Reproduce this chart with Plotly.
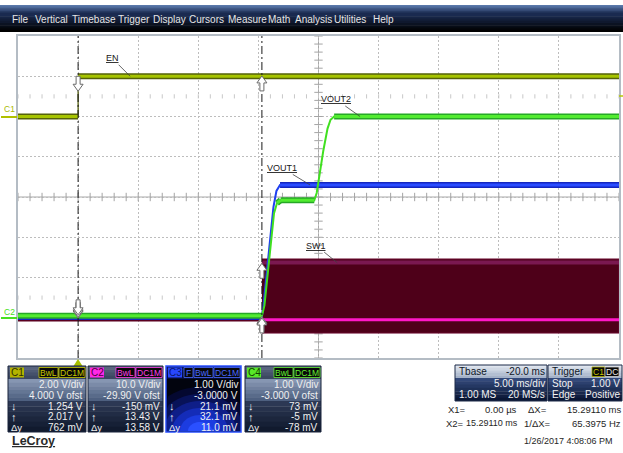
import numpy as np
import plotly.graph_objects as go

W, H = 623, 453
FONT = "Liberation Sans, Arial, sans-serif"

# ---------------- data ----------------
menu_items = ["File", "Vertical", "Timebase", "Trigger", "Display", "Cursors",
              "Measure", "Math", "Analysis", "Utilities", "Help"]
menu_x = [11, 34, 71, 117, 152, 188, 227, 267, 294, 333, 372]

t_left_ms, t_right_ms = -5.0, 45.0       # 5 ms/div, 10 div
div_lo, div_hi = -4, 4

ch_names = ["C1", "C2", "C3", "C4"]
ch_vdiv = [2.0, 10.0, 1.0, 1.0]
ch_ofst = [4.0, -29.90, -3.0, -3.0]
ch_vdiv_txt = ["2.00 V/div", "10.0 V/div", "1.00 V/div", "1.00 V/div"]
ch_ofst_txt = ["4.000 V ofst", "-29.90 V ofst", "-3.0000 V", "-3.000 V ofst"]
cur1_txt = ["1.254 V", "-150 mV", "21.1 mV", "73 mV"]
cur2_txt = ["2.017 V", "13.43 V", "32.1 mV", "-5 mV"]
dy_txt = ["762 mV", "13.58 V", "11.0 mV", "-78 mV"]
cur1_vals = [1.254, -0.150, 0.0211, 0.073]
cur2_vals = [2.017, 13.43, 0.0321, -0.005]
x1_ms = 0.0
x2_ms = 15.2911

# C1 : EN
en_t = [-5.0, 0.0, 0.0, 45.0]
en_v = [0.0, 0.0, 2.0, 2.0]
# C3 : VOUT1
vout1_t = [-5.0, 15.29, 15.45, 16.25, 16.5, 16.8, 45.0]
vout1_v = [0.02, 0.02, 0.4, 2.75, 3.15, 3.3, 3.3]
# C4 : VOUT2
vout2_t = [-5.0, 15.29, 15.5, 16.3, 16.55, 16.85, 19.65, 19.85, 20.4, 20.75, 21.0, 21.3, 45.0]
vout2_v = [0.05, 0.05, 0.3, 2.6, 2.85, 2.92, 2.92, 3.1, 4.15, 4.7, 4.92, 5.0, 5.0]
# C2 : SW1
sw1_pre_t = [-5.0, 15.29]
sw1_pre_v = [-0.3, -0.3]
sw1_t = [15.29, 45.0]
sw1_max_v = [14.5, 14.5]
sw1_min_v = [-3.9, -3.9]
sw1_low_v = [-0.6, -0.6]
sw1_high_v = [13.6, 13.6]

label_names = ["EN", "VOUT2", "VOUT1", "SW1"]
label_ch = [0, 3, 2, 1]
label_t = [4.33, 23.46, 19.3, 21.55]
label_v = [2.0, 5.0, 3.3, 13.6]
label_off = [(-18, -18), (-24, -17), (-28, -17), (-21, -17)]

tb_rows = [("Tbase", "-20.0 ms"), ("", "5.00 ms/div"), ("1.00 MS", "20 MS/s")]
trg_rows = [("Trigger", ""), ("Stop", "1.00 V"), ("Edge", "Positive")]
date_txt = "1/26/2017 4:08:06 PM"

# ---------------- geometry ----------------
GX0, GX1, GY0, GY1 = 18, 619, 36, 358
KX = (t_right_ms - t_left_ms) / (GX1 - GX0)   # ms per px
KY = (div_hi - div_lo) / (GY1 - GY0)          # div per px


def px(x):
    return x / W


def py(y):
    return 1 - y / H


def to_div(v, ch):
    return [(vi + ch_ofst[ch]) / ch_vdiv[ch] for vi in v]


shapes = []
annots = []


def rect(x0, y0, x1, y1, fill, line=None, lw=0):
    shapes.append(dict(type="rect", xref="paper", yref="paper",
                       x0=px(x0), x1=px(x1), y0=py(y1), y1=py(y0),
                       fillcolor=fill, line=dict(color=line or "rgba(0,0,0,0)", width=lw),
                       layer="above"))


def hex2rgb(h):
    h = h.lstrip("#")
    return tuple(int(h[i:i + 2], 16) for i in (0, 2, 4))


def vgrad(x0, y0, x1, y1, c0, c1, n=8):
    a, b = hex2rgb(c0), hex2rgb(c1)
    for i in range(n):
        f = i / (n - 1)
        c = "rgb(%d,%d,%d)" % tuple(round(a[k] + (b[k] - a[k]) * f) for k in range(3))
        ya = y0 + (y1 - y0) * i / n
        yb = y0 + (y1 - y0) * (i + 1) / n
        rect(x0, ya, x1, min(yb + 0.4, y1), c)


def text(x, y, s, size=10, color="#f0f0f0", anchor="left", family=FONT):
    annots.append(dict(xref="paper", yref="paper", x=px(x), y=py(y), text=s,
                       showarrow=False, xanchor=anchor, yanchor="middle",
                       font=dict(size=size, color=color, family=family), borderpad=0))


fig = go.Figure()


# ---------------- traces ----------------
def add_channel(t, v, ch, inner, outer, ramp, band_w, thin_w):
    d = to_div(v, ch)
    fig.add_trace(go.Scatter(x=t, y=d, mode="lines", line=dict(color=ramp, width=thin_w),
                             hoverinfo="skip"))
    bx, by = [], []
    for i in range(len(t) - 1):
        if t[i + 1] > t[i] and abs(d[i + 1] - d[i]) < 0.08:
            bx += [t[i], t[i + 1], None]
            by += [d[i], d[i + 1], None]
    fig.add_trace(go.Scatter(x=bx, y=by, mode="lines", line=dict(color=outer, width=band_w),
                             hoverinfo="skip"))
    fig.add_trace(go.Scatter(x=bx, y=by, mode="lines", line=dict(color=inner, width=band_w - 3),
                             hoverinfo="skip"))


# centre crosshair ticks and level ticks (drawn first, under the traces)
tick_t = list(np.arange(t_left_ms, t_right_ms + 0.01, 1.0))
fig.add_trace(go.Scatter(x=tick_t, y=[0] * len(tick_t), mode="markers",
                         marker=dict(symbol="line-ns-open", size=6, color="#a4a4a4",
                                     line=dict(color="#a4a4a4", width=1)),
                         hoverinfo="skip"))
tick_d = list(np.arange(div_lo, div_hi + 0.01, 0.2))
fig.add_trace(go.Scatter(x=[20.0] * len(tick_d), y=tick_d, mode="markers",
                         marker=dict(symbol="line-ew-open", size=6, color="#a4a4a4",
                                     line=dict(color="#a4a4a4", width=1)),
                         hoverinfo="skip"))
for lvl in (2.5, -2.5):
    fig.add_trace(go.Scatter(x=tick_t, y=[lvl] * len(tick_t), mode="markers",
                             marker=dict(symbol="line-ns-open", size=3, color="#c8c8c8",
                                         line=dict(color="#c8c8c8", width=1)),
                             hoverinfo="skip"))

# SW1 (C2)
fig.add_trace(go.Scatter(x=sw1_pre_t, y=to_div(sw1_pre_v, 1), mode="lines",
                         line=dict(color="#5a0020", width=6), hoverinfo="skip"))
fig.add_trace(go.Scatter(x=sw1_t + sw1_t[::-1], y=to_div(sw1_max_v, 1) + to_div(sw1_min_v, 1)[::-1],
                         mode="lines", fill="toself", fillcolor="#4e0019",
                         line=dict(color="#6a0a30", width=1), hoverinfo="skip"))
fig.add_trace(go.Scatter(x=sw1_t, y=to_div(sw1_high_v, 1), mode="lines",
                         line=dict(color="#7a1850", width=4), hoverinfo="skip"))
fig.add_trace(go.Scatter(x=sw1_t, y=to_div(sw1_low_v, 1), mode="lines",
                         line=dict(color="#ff18c8", width=3), hoverinfo="skip"))

add_channel(vout1_t, vout1_v, 2, "#2a4cff", "#1426c0", "#2040f0", 6, 2)
add_channel(vout2_t, vout2_v, 3, "#52ec30", "#26a826", "#40e020", 6, 2)
add_channel(en_t, en_v, 0, "#a6c400", "#55620a", "#4a5600", 6, 1.2)

# centre lines
shapes.append(dict(type="line", xref="x", yref="y", x0=20, x1=20, y0=div_lo, y1=div_hi,
                   line=dict(color="#a8a8a8", width=1), layer="below"))
shapes.append(dict(type="line", xref="x", yref="y", x0=t_left_ms, x1=t_right_ms, y0=0, y1=0,
                   line=dict(color="#a8a8a8", width=1), layer="below"))

# cursors
for xc in (x1_ms, x2_ms):
    shapes.append(dict(type="line", xref="x", yref="y", x0=xc, x1=xc, y0=div_lo, y1=div_hi,
                       line=dict(color="#1a1a1a", width=1, dash="8px,3px,2px,3px"), layer="above"))

arrow_px = [(0, 0), (5, 7), (2, 7), (2, 15), (-2, 15), (-2, 7), (-5, 7)]


def arrow_path(t, d, up):
    s = 1 if up else -1
    pts = [(t + ax * KX, d - s * ay * KY) for ax, ay in arrow_px]
    return "M " + " L ".join("%.5f,%.5f" % p for p in pts) + " Z"


for ch in (1, 2, 3, 0):
    d1 = to_div([cur1_vals[ch]], ch)[0]
    d2 = to_div([cur2_vals[ch]], ch)[0]
    for tt, dd, up in ((x1_ms, d1, False), (x2_ms, d2, True)):
        shapes.append(dict(type="path", xref="x", yref="y", path=arrow_path(tt, dd, up),
                           fillcolor="white", line=dict(color="#6a6a6a", width=1), layer="above"))

# trace labels
for name, ch, tt, vv, (ax, ay) in zip(label_names, label_ch, label_t, label_v, label_off):
    annots.append(dict(xref="x", yref="y", x=tt, y=to_div([vv], ch)[0], ax=ax, ay=ay,
                       text="<u>%s</u>" % name, showarrow=True, arrowhead=0, arrowwidth=0.8,
                       arrowcolor="#404040", standoff=0,
                       font=dict(size=9, color="#202020", family=FONT)))

# ---------------- chrome ----------------
# menu bar
vgrad(0, 5, W, 14, "#5a78aa", "#1a2a50", n=6)
vgrad(0, 14, W, 32, "#1a2a50", "#000000", n=8)
for s, x in zip(menu_items, menu_x):
    text(x, 19.5, s, size=10, color="#e6e6e6")

# left ground markers
shapes.append(dict(type="line", xref="paper", yref="paper", x0=px(1), x1=px(17), y0=py(117), y1=py(117),
                   line=dict(color="#b0c000", width=2)))
text(3, 109, "C1", size=8.5, color="#a8b800")
shapes.append(dict(type="line", xref="paper", yref="paper", x0=px(1), x1=px(17), y0=py(318), y1=py(318),
                   line=dict(color="#48e020", width=2)))
text(3, 312, "C2", size=8.5, color="#48e020")

# trigger markers
shapes.append(dict(type="path", xref="paper", yref="paper",
                   path="M %f,%f L %f,%f L %f,%f Z" % (px(78), py(359), px(82.5), py(366), px(73.5), py(366)),
                   fillcolor="#a8c000", line=dict(width=0)))
shapes.append(dict(type="line", xref="paper", yref="paper", x0=px(619), x1=px(623), y0=py(96), y1=py(96),
                   line=dict(color="#b8c800", width=1.5)))

# channel boxes
boxes_x = [(8, 86), (88, 163), (166, 241), (245, 321)]
BY0, BH1, BM1, BY1 = 366, 379, 401, 432
badge_fill = ["#b4b400", "#ff28e6", "#2848ff", "#58e828"]
badge_txt = ["#303000", "#500040", "#0a1870", "#104000"]
tag_col = ["#c8c800", "#ff40e8", "#4a6aff", "#64f034"]

for i, (x0, x1) in enumerate(boxes_x):
    if i != 2:
        vgrad(x0, BY0, x1, BH1, "#58647e", "#3c4862", n=4)
        vgrad(x0, BH1, x1, BM1, "#8696b2", "#4e6080", n=6)
        vgrad(x0, BM1, x1, BY1, "#2c3854", "#111a2e", n=6)
        rect(x0, BY0, x1, BY1, "rgba(0,0,0,0)", "#18223a", 1)
    else:
        vgrad(x0, BY0, x1, BH1, "#0c1a60", "#060c38", n=4)
        rect(x0, BH1, x1, BY1, "#02040e")
        for rx, ry, col in ((52, 44, "#040830"), (44, 37, "#081258"), (36, 30, "#0e1e88"),
                            (28, 23, "#142cb8"), (20, 16, "#1c3ce0"), (12, 9, "#2a50ff")):
            th = np.linspace(0, np.pi, 25)
            xs = np.clip(200 + rx * np.cos(th), x0 + 1, x1 - 1)
            ys = BY1 - 1 - ry * np.sin(th)
            path = "M " + " L ".join("%f,%f" % (px(a), py(b)) for a, b in zip(xs, ys)) + " Z"
            shapes.append(dict(type="path", xref="paper", yref="paper", path=path,
                               fillcolor=col, line=dict(width=0)))
        rect(x0, BY0, x1, BY1, "rgba(0,0,0,0)", "#2a50ff", 1.5)
    # badge
    rect(x0 + 2, BY0 + 1.5, x0 + 16, BH1 - 1.5, badge_fill[i])
    text(x0 + 9, BY0 + 6.5, ch_names[i], size=10, color=badge_txt[i], anchor="center")
    tags = [("DC1M", x1 - 27, x1 - 1), ("BwL", x1 - 47, x1 - 28)]
    if i == 2:
        tags.append(("F", x1 - 57, x1 - 48))
    for s, a, b in tags:
        rect(a, BY0 + 1.5, b, BH1 - 1.5, "#080808", tag_col[i], 0.8)
        text((a + b) / 2, BY0 + 6.5, s, size=8.5, color=tag_col[i], anchor="center")
    text(x1 - 2, 384, ch_vdiv_txt[i], anchor="right")
    text(x1 - 2, 395, ch_ofst_txt[i], anchor="right")
    text(x0 + 2, 406, "↓", size=11)
    text(x0 + 2, 416.5, "↑", size=11)
    text(x0 + 2, 427, "Δy", size=9.5)
    text(x1 - 2, 406, cur1_txt[i], anchor="right")
    text(x1 - 2, 416.5, cur2_txt[i], anchor="right")
    text(x1 - 2, 427, dy_txt[i], anchor="right")

# timebase / trigger boxes
for (x0, x1), rows in (((455, 547), tb_rows), ((548, 622), trg_rows)):
    vgrad(x0, 365, x1, 378, "#dfe5ee", "#a4b2c8", n=5)
    vgrad(x0, 378, x1, 401, "#33497a", "#0a1634", n=7)
    rect(x0, 365, x1, 401, "rgba(0,0,0,0)", "#1c2a48", 1)
    for j, (lt, rt) in enumerate(rows):
        yy = 371.5 + j * 11.5
        col = "#101828" if j == 0 else "#f2f2f2"
        if lt:
            text(x0 + 3, yy, lt, color=col)
        if rt:
            text(x1 - 1, yy, rt, color=col, anchor="right")
rect(592, 367, 605, 376.5, "#080808", "#b0b000", 0.8)
text(598.5, 371.5, "C1", size=8.5, color="#c8c800", anchor="center")
rect(605, 367, 619, 376.5, "#080808", "#d0d0d0", 0.8)
text(612, 371.5, "DC", size=8.5, color="#e8e8e8", anchor="center")

# cursor readouts
dark = "#262626"
text(447, 409, "X1=", size=9.5, color=dark)
text(518, 409, "%.2f µs" % (x1_ms * 1000), size=9.5, color=dark, anchor="right")
text(527, 409, "ΔX=", size=9.5, color=dark)
text(622, 409, "%.5f ms" % (x2_ms - x1_ms), size=9.5, color=dark, anchor="right")
text(445, 423, "X2=", size=9.5, color=dark)
text(519, 423, "%.5f ms" % x2_ms, size=9, color=dark, anchor="right")
text(523, 423, "1/ΔX=", size=9.5, color=dark)
text(622, 423, "%.4f Hz" % (1000.0 / (x2_ms - x1_ms)), size=9.5, color=dark, anchor="right")
text(614, 441, date_txt, size=9, color=dark, anchor="right")
text(11, 441, "<u><b>LeCroy</b></u>", size=12.5, color="#2a2a2a")

# ---------------- layout ----------------
fig.update_xaxes(range=[t_left_ms, t_right_ms], domain=[px(GX0), px(GX1)], tick0=t_left_ms, dtick=5,
                 showgrid=True, gridcolor="#bdbdbd", griddash="2px,2px", gridwidth=1,
                 zeroline=False, showticklabels=False, ticks="", showline=True,
                 linecolor="#b4bcc4", linewidth=2, mirror=True, fixedrange=True)
fig.update_yaxes(range=[div_lo, div_hi], domain=[py(GY1), py(GY0)], tick0=div_lo, dtick=1,
                 showgrid=True, gridcolor="#bdbdbd", griddash="2px,2px", gridwidth=1,
                 zeroline=False, showticklabels=False, ticks="", showline=True,
                 linecolor="#b4bcc4", linewidth=2, mirror=True, fixedrange=True)
fig.update_layout(width=W, height=H, autosize=False, margin=dict(l=0, r=0, t=0, b=0),
                  paper_bgcolor="white", plot_bgcolor="white", showlegend=False,
                  hovermode=False, font=dict(family=FONT), shapes=shapes, annotations=annots)

fig.write_html("out.html", config={"displayModeBar": False, "staticPlot": True},
               post_script="document.body.style.margin='0px';document.body.style.overflow='hidden';")
